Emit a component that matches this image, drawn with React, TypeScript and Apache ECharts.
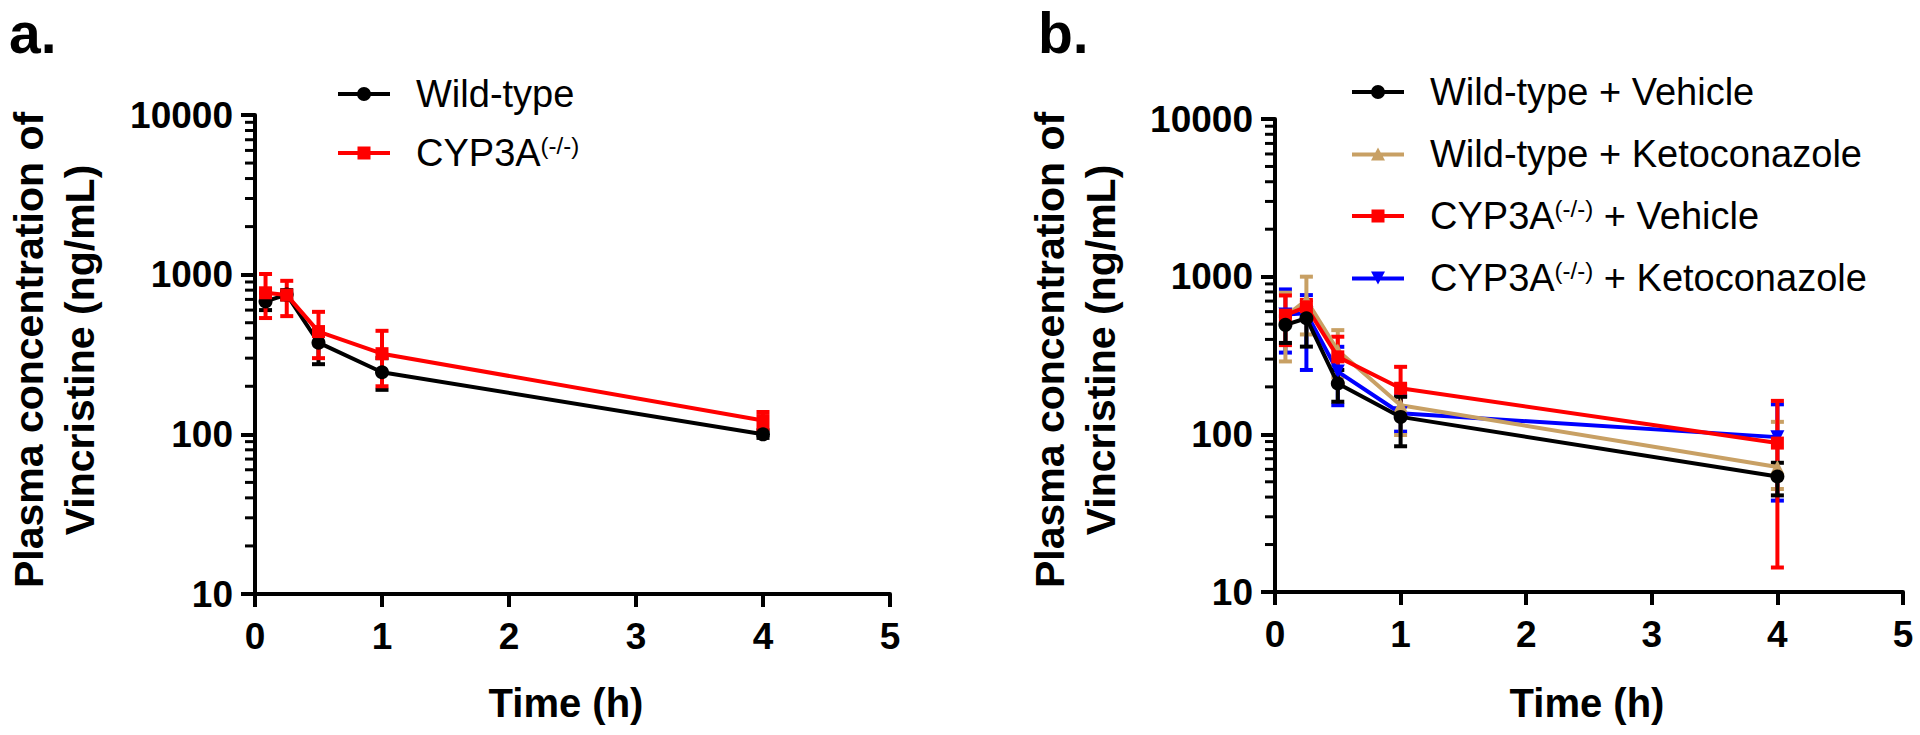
import React, { useEffect, useRef } from "react";
import * as echarts from "echarts";

// ---- data ----
const timesA = [0.083, 0.25, 0.5, 1, 4];
const wtA = [680, 750, 375, 245, 100];
const wtALow = [600, 700, 275, 190, 95];
const wtAHigh = [770, 800, 465, 300, 106];
const cypA = [770, 745, 440, 320, 122];
const cypALow = [535, 550, 300, 200, 108];
const cypAHigh = [1010, 915, 585, 445, 138];

const timesB = [0.083, 0.25, 0.5, 1, 4];
const wtVeh = [495, 545, 210, 129, 54];
const wtVehLow = [380, 360, 161, 84, 41];
const wtVehHigh = [560, 640, 256, 173, 66];
const wtKeto = [560, 710, 340, 153, 62];
const wtKetoLow = [290, 430, 230, 99, 45];
const wtKetoHigh = [791, 1000, 458, 205, 120];
const cypVeh = [570, 644, 310, 196, 88];
const cypVehLow = [368, 580, 210, 130, 14.3];
const cypVehHigh = [760, 711, 416, 268, 163];
const cypKeto = [575, 587, 250, 136, 96];
const cypKetoLow = [330, 256, 153, 104, 38];
const cypKetoHigh = [830, 764, 359, 175, 155];

const xTicks = [0, 1, 2, 3, 4, 5];
const yMinorTicks = [20, 30, 40, 50, 60, 70, 80, 90, 200, 300, 400, 500, 600, 700, 800, 900, 2000, 3000, 4000, 5000, 6000, 7000, 8000, 9000];

const legendA = ["Wild-type", "CYP3A(-/-)"];
const legendB = ["Wild-type + Vehicle", "Wild-type + Ketoconazole", "CYP3A(-/-) + Vehicle", "CYP3A(-/-) + Ketoconazole"];

const BLACK = "#000000";
const RED = "#FF0000";
const TAN = "#C8A064";
const BLUE = "#0000FF";
const FONT = "'Liberation Sans', Arial, sans-serif";

// legend icons: thick line with the series marker in the middle (52 x 14 box)
const LINE = "M0,6 L52,6 L52,10 L0,10 Z ";
const ICONS: Record<string, string> = {
  circle: "path://" + LINE + "M33,8 A7,7 0 1,1 19,8 A7,7 0 1,1 33,8 Z",
  rect: "path://" + LINE + "M19.5,1.5 L32.5,1.5 L32.5,14.5 L19.5,14.5 Z",
  up: "path://" + LINE + "M26,1 L33,14 L19,14 Z",
  down: "path://" + LINE + "M19,1 L33,1 L26,14 Z",
};

function lineSeries(name: string, times: number[], vals: number[], color: string, symbol: string, idx: number, z: number, rotate = 0) {
  return {
    type: "line",
    name,
    xAxisIndex: idx,
    yAxisIndex: idx,
    data: times.map((t, i) => [t, vals[i]]),
    symbol,
    symbolSize: symbol === "rect" ? 13 : 14,
    symbolRotate: rotate,
    lineStyle: { color, width: 4 },
    itemStyle: { color },
    z,
  };
}

function errSeries(name: string, times: number[], low: number[], high: number[], color: string, idx: number, z: number) {
  return {
    type: "custom",
    name,
    xAxisIndex: idx,
    yAxisIndex: idx,
    data: times.map((t, i) => [t, low[i], high[i]]),
    encode: { x: 0, y: [1, 2] },
    renderItem: (params: any, api: any) => {
      const t = api.value(0);
      const lo = api.coord([t, api.value(1)]);
      const hi = api.coord([t, api.value(2)]);
      const w = 6.5;
      const style = { stroke: color, lineWidth: 4 };
      return {
        type: "group",
        children: [
          { type: "line", shape: { x1: lo[0], y1: lo[1], x2: hi[0], y2: hi[1] }, style },
          { type: "line", shape: { x1: lo[0] - w, y1: lo[1], x2: lo[0] + w, y2: lo[1] }, style },
          { type: "line", shape: { x1: hi[0] - w, y1: hi[1], x2: hi[0] + w, y2: hi[1] }, style },
        ],
      };
    },
    z,
    silent: true,
  };
}

function minorTickSeries(idx: number) {
  return {
    type: "custom",
    xAxisIndex: idx,
    yAxisIndex: idx,
    data: yMinorTicks.map((v) => [0, v]),
    renderItem: (params: any, api: any) => {
      const c = api.coord([0, api.value(1)]);
      return { type: "line", shape: { x1: c[0] - 10, y1: c[1], x2: c[0], y2: c[1] }, style: { stroke: BLACK, lineWidth: 3 } };
    },
    silent: true,
    z: 1,
  };
}

function xAxis(idx: number) {
  return {
    type: "value",
    gridIndex: idx,
    min: xTicks[0],
    max: xTicks[xTicks.length - 1],
    interval: 1,
    axisLine: { show: true, lineStyle: { color: BLACK, width: 4 } },
    axisTick: { show: true, length: 13, lineStyle: { color: BLACK, width: 4 } },
    axisLabel: { color: BLACK, fontFamily: FONT, fontWeight: "bold", fontSize: 37, margin: 24 },
    splitLine: { show: false },
  };
}

function yAxis(idx: number) {
  return {
    type: "log",
    gridIndex: idx,
    logBase: 10,
    min: 10,
    max: 10000,
    axisLine: { show: true, lineStyle: { color: BLACK, width: 4 } },
    axisTick: { show: true, length: 14, lineStyle: { color: BLACK, width: 4 } },
    axisLabel: { color: BLACK, fontFamily: FONT, fontWeight: "bold", fontSize: 37, margin: 22, formatter: (v: number) => String(v) },
    splitLine: { show: false },
  };
}

const legendFmt = (name: string) => name.replace("(-/-)", "{s|(-/-)}");

function legend(data: { name: string; icon: string }[], left: number, top: number, gap: number) {
  return {
    data,
    orient: "vertical",
    left,
    top,
    itemWidth: 52,
    itemHeight: 14,
    itemGap: gap,
    selectedMode: false,
    formatter: legendFmt,
    textStyle: {
      fontFamily: FONT,
      fontSize: 38,
      color: BLACK,
      lineHeight: 40,
      padding: [0, 0, 0, 21],
      rich: { s: { fontFamily: FONT, fontSize: 24, color: BLACK, lineHeight: 24, verticalAlign: "top" } },
    },
  };
}

export default function App() {
  const ref = useRef<HTMLDivElement>(null);
  useEffect(() => {
    if (!ref.current) return;
    const chart = echarts.init(ref.current, undefined, { renderer: "svg" });
    const titleStyle = { fontFamily: FONT, fontWeight: "bold", fontSize: 41, fill: BLACK, align: "center", verticalAlign: "middle", lineHeight: 51 };
    const timeStyle = { ...titleStyle, fontSize: 40 };
    chart.setOption({
      animation: false,
      backgroundColor: "#ffffff",
      grid: [
        { left: 255, top: 115, width: 635, height: 479 },
        { left: 1275, top: 119, width: 628, height: 473 },
      ],
      xAxis: [xAxis(0), xAxis(1)],
      yAxis: [yAxis(0), yAxis(1)],
      legend: [
        legend(
          [
            { name: legendA[0], icon: ICONS.circle },
            { name: legendA[1], icon: ICONS.rect },
          ],
          333,
          69,
          19
        ),
        legend(
          [
            { name: legendB[0], icon: ICONS.circle },
            { name: legendB[1], icon: ICONS.up },
            { name: legendB[2], icon: ICONS.rect },
            { name: legendB[3], icon: ICONS.down },
          ],
          1347,
          67,
          22
        ),
      ],
      graphic: [
        { type: "text", x: 9, y: 33, style: { text: "a.", fontFamily: FONT, fontWeight: "bold", fontSize: 57, fill: BLACK, verticalAlign: "middle" } },
        { type: "text", x: 1038, y: 33, style: { text: "b.", fontFamily: FONT, fontWeight: "bold", fontSize: 57, fill: BLACK, verticalAlign: "middle" } },
        { type: "text", x: 54, y: 350, rotation: Math.PI / 2, style: { ...titleStyle, text: "Plasma concentration of\nVincristine (ng/mL)" } },
        { type: "text", x: 1075, y: 350, rotation: Math.PI / 2, style: { ...titleStyle, text: "Plasma concentration of\nVincristine (ng/mL)" } },
        { type: "text", x: 566, y: 703, style: { ...timeStyle, text: "Time (h)" } },
        { type: "text", x: 1587, y: 703, style: { ...timeStyle, text: "Time (h)" } },
      ],
      series: [
        minorTickSeries(0),
        minorTickSeries(1),
        errSeries("wtA-sd", timesA, wtALow, wtAHigh, BLACK, 0, 2),
        errSeries("cypA-sd", timesA, cypALow, cypAHigh, RED, 0, 2),
        lineSeries("Wild-type", timesA, wtA, BLACK, "circle", 0, 3),
        lineSeries("CYP3A(-/-)", timesA, cypA, RED, "rect", 0, 4),
        errSeries("cypKeto-sd", timesB, cypKetoLow, cypKetoHigh, BLUE, 1, 2),
        errSeries("wtKeto-sd", timesB, wtKetoLow, wtKetoHigh, TAN, 1, 2),
        errSeries("cypVeh-sd", timesB, cypVehLow, cypVehHigh, RED, 1, 2),
        errSeries("wtVeh-sd", timesB, wtVehLow, wtVehHigh, BLACK, 1, 2),
        lineSeries("CYP3A(-/-) + Ketoconazole", timesB, cypKeto, BLUE, "triangle", 1, 3, 180),
        lineSeries("Wild-type + Ketoconazole", timesB, wtKeto, TAN, "triangle", 1, 3),
        lineSeries("CYP3A(-/-) + Vehicle", timesB, cypVeh, RED, "rect", 1, 4),
        lineSeries("Wild-type + Vehicle", timesB, wtVeh, BLACK, "circle", 1, 5),
      ],
    });
    return () => chart.dispose();
  }, []);
  return <div ref={ref} style={{ position: "fixed", left: 0, top: 0, width: 1920, height: 735, background: "#fff" }} />;
}
